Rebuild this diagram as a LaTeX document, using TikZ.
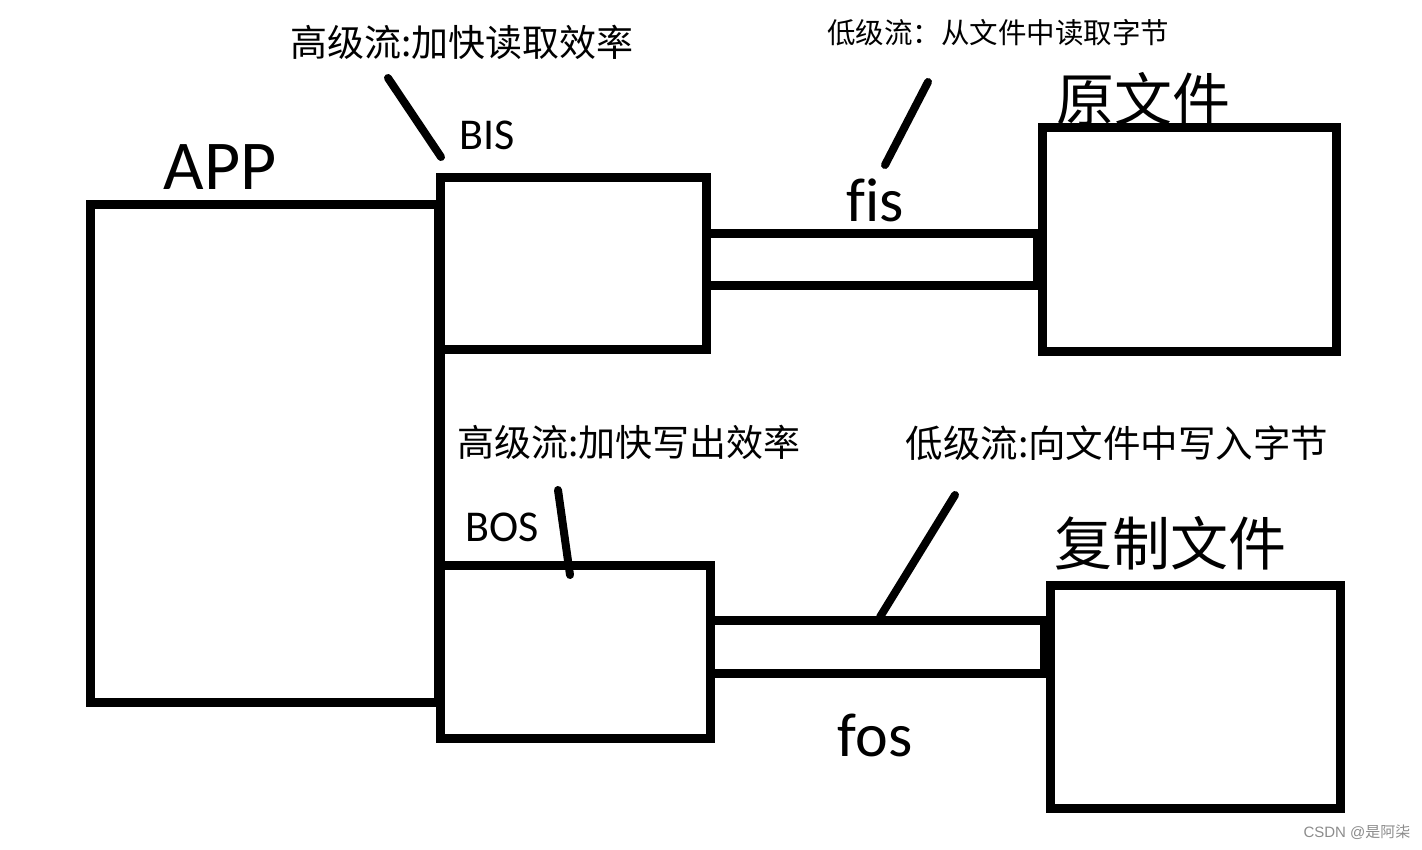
\documentclass[tikz,border=0pt]{standalone}
\usepackage{fontspec}
\setmainfont{Carlito}[Ligatures=NoCommon]
\newfontfamily\cjk{Noto Sans CJK SC}
\usetikzlibrary{positioning}
\tikzset{
    box/.style={rectangle, draw, line width=9pt, inner sep=0pt, outer sep=0pt},
    pipe/.style={line width=9pt},
    pointer/.style={line width=8pt, line cap=round},
    cntext/.style={inner sep=0pt, font=\cjk\fontsize{#1}{#1}\selectfont},
    entext/.style={inner sep=0pt, font=\fontsize{#1}{#1}\selectfont}
}

\begin{document}
\begin{tikzpicture}[x=1pt, y=-1pt]
    \useasboundingbox[fill=white] (0,0) rectangle (1422,850);
    % boxes
    \node[box, minimum width=348pt, minimum height=497pt] (app) at (264,453.5) {};
    \node[box, minimum width=266pt, minimum height=172pt] (bis) at (573,264) {};
    \node[box, minimum width=270pt, minimum height=173pt] (bos) at (575,651.5) {};
    \node[box, minimum width=294pt, minimum height=224pt] (src) at (1189,240) {};
    \node[box, minimum width=290pt, minimum height=223pt] (dst) at (1195,696.5) {};
    \draw[pipe] (bis.south west) -- (bos.north west);
    % pipes
    \coordinate (fisT) at (870,234);
    \coordinate (fisB) at (870,286);
    \coordinate (fosT) at (870,620);
    \coordinate (fosB) at (870,673);
    \draw[pipe] (bis.east |- fisT) -- (src.west |- fisT);
    \draw[pipe] (bis.east |- fisB) -- (src.west |- fisB);
    \draw[pipe] (bos.east |- fosT) -- (dst.west |- fosT);
    \draw[pipe] (bos.east |- fosB) -- (dst.west |- fosB);
    \draw[line width=10pt] ([xshift=-4pt]src.west |- fisT) -- ([xshift=-4pt]src.west |- fisB);
    \draw[line width=10pt] ([xshift=-5pt]dst.west |- fosT) -- ([xshift=-5pt]dst.west |- fosB);
    % labels
    \node[entext=70pt] (appL) at (220,167) {APP};
    \node[entext=44pt] (bisL) at (487,135) {BIS};
    \node[entext=44pt] (bosL) at (502,527) {BOS};
    \node[entext=62pt] (fisL) at (875,200) {fis};
    \node[entext=62pt] (fosL) at (875,735) {fos};
    \node[cntext=58pt] (srcL) at (1143,99) {原文件};
    \node[cntext=58pt] (dstL) at (1170,543) {复制文件};
    \node[cntext=37pt] (bisN) at (462,42) {高级流:加快读取效率};
    \node[cntext=28.5pt] (fisN) at (998,33) {低级流：从文件中读取字节};
    \node[cntext=37pt] (bosN) at (629,442) {高级流:加快写出效率};
    \node[cntext=37.5pt] (fosN) at (1117,443) {低级流:向文件中写入字节};
    \node[cntext=15pt, text=black!45] (mark) at (1357,832) {\fontspec{Liberation Sans}CSDN @\cjk 是阿柒};
    % pointers
    \coordinate (p1a) at (388,78);  \coordinate (p1b) at (441,157);
    \coordinate (p2a) at (928,82);  \coordinate (p2b) at (885,165);
    \coordinate (p3a) at (558,490); \coordinate (p3b) at (570,575);
    \coordinate (p4a) at (955,495); \coordinate (p4b) at (880,617);
    \draw[pointer] (p1a) -- (p1b);
    \draw[pointer] (p2a) -- (p2b);
    \draw[pointer] (p3a) -- (p3b);
    \draw[pointer] (p4a) -- (p4b);
\end{tikzpicture}
\end{document}
